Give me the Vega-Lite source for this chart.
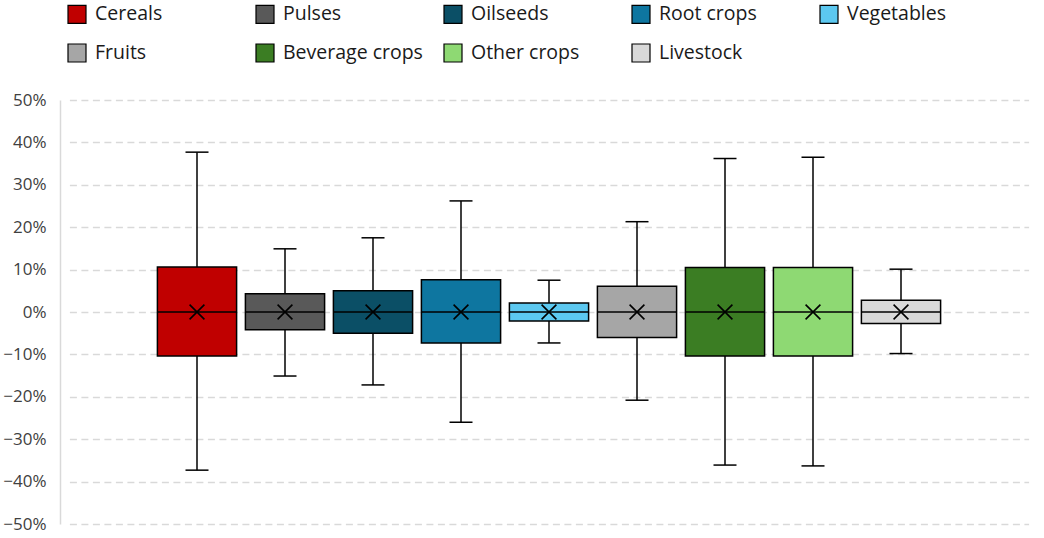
{
  "$schema": "https://vega.github.io/schema/vega-lite/v6.json",
  "width": 978,
  "height": 424,
  "autosize": {"type": "none"},
  "padding": {"left": 60, "top": 100, "right": 6, "bottom": 14},
  "background": "white",
  "config": {
    "view": {"stroke": null},
    "font": "Open Sans",
    "axis": {"labelFont": "Open Sans", "labelColor": "#404040"},
    "legend": {"labelFont": "Open Sans"}
  },
  "data": {
    "values": [
      {"cat": "Cereals", "lo": -0.373, "q1": -0.104, "med": 0, "q3": 0.106, "hi": 0.377, "mean": 0},
      {"cat": "Pulses", "lo": -0.151, "q1": -0.042, "med": 0, "q3": 0.043, "hi": 0.149, "mean": 0},
      {"cat": "Oilseeds", "lo": -0.172, "q1": -0.05, "med": 0, "q3": 0.05, "hi": 0.175, "mean": 0},
      {"cat": "Root crops", "lo": -0.26, "q1": -0.073, "med": 0, "q3": 0.076, "hi": 0.262, "mean": 0},
      {"cat": "Vegetables", "lo": -0.073, "q1": -0.021, "med": 0, "q3": 0.021, "hi": 0.075, "mean": 0},
      {"cat": "Fruits", "lo": -0.208, "q1": -0.06, "med": 0, "q3": 0.061, "hi": 0.213, "mean": 0},
      {"cat": "Beverage crops", "lo": -0.361, "q1": -0.104, "med": 0, "q3": 0.105, "hi": 0.362, "mean": 0},
      {"cat": "Other crops", "lo": -0.363, "q1": -0.104, "med": 0, "q3": 0.105, "hi": 0.365, "mean": 0},
      {"cat": "Livestock", "lo": -0.098, "q1": -0.027, "med": 0, "q3": 0.028, "hi": 0.101, "mean": 0}
    ]
  },
  "encoding": {
    "x": {
      "field": "cat",
      "type": "nominal",
      "sort": null,
      "scale": {"paddingInner": 0.1, "paddingOuter": 1, "range": [9.4, 968.6]},
      "axis": null
    }
  },
  "layer": [
    {
      "mark": {"type": "rule", "color": "#000000", "strokeWidth": 1.5},
      "encoding": {
        "y": {
          "field": "lo",
          "type": "quantitative",
          "scale": {"domain": [-0.5, 0.5], "nice": false, "zero": false},
          "axis": {
            "title": null,
            "format": ".0%",
            "values": [-0.5, -0.4, -0.3, -0.2, -0.1, 0, 0.1, 0.2, 0.3, 0.4, 0.5],
            "ticks": false,
            "labelFontSize": 17,
            "labelPadding": 14,
            "domainColor": "#d9d9d9",
            "domainWidth": 1.5,
            "grid": true,
            "gridColor": "#d9d9d9",
            "gridWidth": 1.5,
            "gridDash": [7, 4.5]
          }
        },
        "y2": {"field": "hi"}
      }
    },
    {
      "mark": {"type": "bar", "stroke": "#000000", "strokeWidth": 1.5, "opacity": 1},
      "encoding": {
        "y": {"field": "q1", "type": "quantitative"},
        "y2": {"field": "q3"},
        "fill": {
          "field": "cat",
          "type": "nominal",
          "sort": null,
          "scale": {
            "domain": ["Cereals", "Pulses", "Oilseeds", "Root crops", "Vegetables", "Fruits", "Beverage crops", "Other crops", "Livestock"],
            "range": ["#C00000", "#595959", "#0B4F66", "#0E76A0", "#5CC8F0", "#A6A6A6", "#3B7D23", "#8ED973", "#D9D9D9"]
          },
          "legend": {
            "title": null,
            "orient": "none",
            "legendX": 7,
            "legendY": -96,
            "direction": "horizontal",
            "columns": 5,
            "gridAlign": "all",
            "symbolType": "square",
            "symbolSize": 324,
            "symbolStrokeColor": "#000000",
            "symbolStrokeWidth": 1.2,
            "symbolOpacity": 1,
            "labelFontSize": 19.5,
            "labelColor": "#1a1a1a",
            "labelOffset": 8,
            "labelLimit": 300,
            "rowPadding": 15,
            "columnPadding": 18,
            "padding": 0
          }
        }
      }
    },
    {
      "mark": {"type": "tick", "color": "#000000", "size": 79, "thickness": 1.5, "opacity": 1},
      "encoding": {"y": {"field": "med", "type": "quantitative"}}
    },
    {
      "mark": {"type": "tick", "color": "#000000", "size": 23, "thickness": 1.5, "opacity": 1},
      "encoding": {"y": {"field": "hi", "type": "quantitative"}}
    },
    {
      "mark": {"type": "tick", "color": "#000000", "size": 23, "thickness": 1.5, "opacity": 1},
      "encoding": {"y": {"field": "lo", "type": "quantitative"}}
    },
    {
      "mark": {
        "type": "point",
        "shape": "M-1,-1L1,1M-1,1L1,-1",
        "filled": false,
        "stroke": "#000000",
        "strokeWidth": 1.6,
        "size": 220,
        "opacity": 1
      },
      "encoding": {"y": {"field": "mean", "type": "quantitative"}}
    }
  ]
}
